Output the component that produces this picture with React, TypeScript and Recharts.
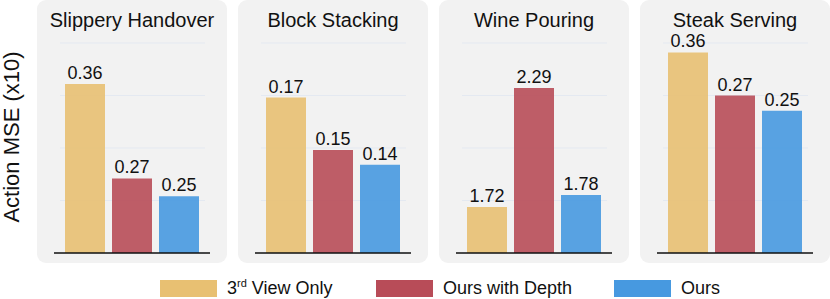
import React from 'react';
import { BarChart, Bar, XAxis, YAxis, CartesianGrid, LabelList, ReferenceLine } from 'recharts';

const tasks = ['Slippery Handover', 'Block Stacking', 'Wine Pouring', 'Steak Serving'];
const thirdView = [0.361, 0.174, 1.719, 0.382];
const oursDepth = [0.271, 0.149, 2.286, 0.3];
const ours = [0.254, 0.142, 1.776, 0.271];
const thirdViewLabels = ['0.36', '0.17', '1.72', '0.36'];
const oursDepthLabels = ['0.27', '0.15', '2.29', '0.27'];
const oursLabels = ['0.25', '0.14', '1.78', '0.25'];
const yDomains: [number, number][] = [[0.2, 0.4], [0.1, 0.2], [1.5, 2.5], [0, 0.4]];

const seriesNames = ['3rd View Only', 'Ours with Depth', 'Ours'];
const colors = ['#E8C072', '#B84C58', '#4799E0'];

const FONT = '"Liberation Sans", Arial, Helvetica, sans-serif';

function ticksFor(d: [number, number]) {
  const step = (d[1] - d[0]) / 4;
  return [0, 1, 2, 3, 4].map((k) => +(d[0] + step * k).toFixed(6));
}

function Panel({ i }: { i: number }) {
  const data = [
    {
      task: tasks[i],
      a: thirdView[i],
      b: oursDepth[i],
      c: ours[i],
      aL: thirdViewLabels[i],
      bL: oursDepthLabels[i],
      cL: oursLabels[i],
    },
  ];
  const dom = yDomains[i];
  const keys = ['a', 'b', 'c'];
  return (
    <div
      style={{
        position: 'absolute',
        left: 37 + 201 * i,
        top: 0,
        width: 190,
        height: 263,
        background: '#F2F2F2',
        borderRadius: 9,
      }}
    >
      <svg width={190} height={40} style={{ position: 'absolute', left: 0, top: 0 }}>
        <text x={95} y={27} textAnchor="middle" fontSize={20} fontFamily={FONT} fill="#111">
          {tasks[i]}
        </text>
      </svg>
      <div style={{ position: 'absolute', left: 0, top: 0 }}>
        <BarChart
          width={190}
          height={263}
          data={data}
          margin={{ top: 43, right: 17, bottom: 10, left: 17 }}
          barSize={40}
          barGap={7}
        >
          <CartesianGrid vertical={false} stroke="#E4E9F1" strokeWidth={1} x={23} width={145} />
          <XAxis dataKey="task" hide />
          <YAxis hide domain={dom} ticks={ticksFor(dom)} allowDataOverflow />
          {keys.map((k, j) => (
            <Bar key={k} dataKey={k} fill={colors[j]} fillOpacity={0.9} isAnimationActive={false}>
              <LabelList
                dataKey={k + 'L'}
                position="top"
                offset={5}
                fontSize={18}
                fontFamily={FONT}
                fill="#111"
              />
            </Bar>
          ))}
          <ReferenceLine y={dom[0]} stroke="#111" strokeWidth={1.5} ifOverflow="extendDomain" />
        </BarChart>
      </div>
    </div>
  );
}

export default function App() {
  const legendX = [160, 376, 614];
  return (
    <div
      style={{
        position: 'absolute',
        left: 0,
        top: 0,
        width: 830,
        height: 299,
        background: '#fff',
        fontFamily: FONT,
        overflow: 'hidden',
      }}
    >
      {tasks.map((_, i) => (
        <Panel key={i} i={i} />
      ))}
      <svg width={30} height={263} style={{ position: 'absolute', left: 0, top: 0 }}>
        <text
          x={19}
          y={137}
          transform="rotate(-90, 19, 137)"
          textAnchor="middle"
          fontSize={22}
          fontFamily={FONT}
          fill="#111"
        >
          Action MSE (x10)
        </text>
      </svg>
      {seriesNames.map((name, j) => (
        <div
          key={name}
          style={{ position: 'absolute', left: legendX[j], top: 280, height: 17, display: 'flex', alignItems: 'center' }}
        >
          <div style={{ width: 57, height: 17, background: colors[j] }} />
          <div style={{ marginLeft: 10, fontSize: 18, color: '#111', whiteSpace: 'nowrap', lineHeight: '17px' }}>
            {j === 0 ? (
              <span>
                3<sup style={{ fontSize: 11, verticalAlign: 'top', lineHeight: '10px', position: 'relative', top: -2 }}>rd</sup> View Only
              </span>
            ) : (
              name
            )}
          </div>
        </div>
      ))}
    </div>
  );
}
